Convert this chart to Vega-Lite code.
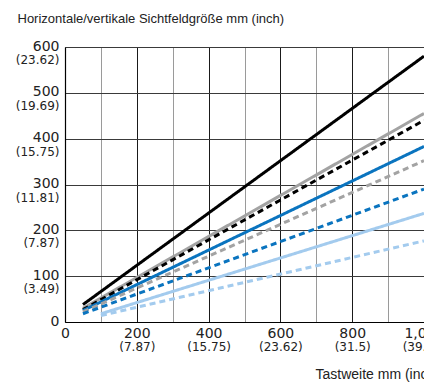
{
  "$schema": "https://vega.github.io/schema/vega-lite/v6.json",
  "width": 359,
  "height": 275,
  "autosize": {"type": "none"},
  "padding": {"left": 65, "top": 47, "right": 0, "bottom": 63},
  "background": "white",
  "config": {
    "view": {"stroke": null},
    "axis": {"labelColor": "#222", "titleColor": "#222", "titleFontWeight": "normal"}
  },
  "data": {
    "values": [
      {"series": "A", "x": 50, "y": 38}, {"series": "A", "x": 1000, "y": 580},
      {"series": "B", "x": 50, "y": 30}, {"series": "B", "x": 1000, "y": 455},
      {"series": "C", "x": 50, "y": 27}, {"series": "C", "x": 1000, "y": 440},
      {"series": "D", "x": 50, "y": 25}, {"series": "D", "x": 1000, "y": 383},
      {"series": "E", "x": 50, "y": 22}, {"series": "E", "x": 1000, "y": 352},
      {"series": "F", "x": 50, "y": 18}, {"series": "F", "x": 1000, "y": 290},
      {"series": "G", "x": 100, "y": 18}, {"series": "G", "x": 1000, "y": 237},
      {"series": "H", "x": 100, "y": 14}, {"series": "H", "x": 1000, "y": 177}
    ]
  },
  "layer": [
    {
      "mark": {"type": "line", "strokeWidth": 3, "strokeCap": "butt", "clip": true},
      "encoding": {
        "x": {
          "field": "x", "type": "quantitative",
          "scale": {"domain": [0, 1000], "nice": false, "zero": false},
          "axis": {
            "orient": "bottom",
            "values": [0, 100, 200, 300, 400, 500, 600, 700, 800, 900, 1000],
            "labelExpr": "datum.value % 200 == 0 ? format(datum.value, ',') : ''",
            "labelFont": "DejaVu Sans", "labelFontSize": 14, "labelPadding": 4,
            "labelFlush": false, "labelOverlap": false,
            "ticks": false, "domain": true, "domainColor": "#000", "domainWidth": 1.2,
            "grid": true, "gridWidth": 1,
            "gridColor": {"condition": {"test": "datum.value % 200 == 0", "value": "#1a1a1a"}, "value": "#9a9a9a"},
            "title": null
          }
        },
        "y": {
          "field": "y", "type": "quantitative",
          "scale": {"domain": [0, 600], "nice": false, "zero": false},
          "axis": {
            "orient": "left",
            "values": [0, 100, 200, 300, 400, 500, 600],
            "labelFont": "DejaVu Sans", "labelFontSize": 14, "labelPadding": 6,
            "labelBaseline": "middle", "labelOffset": -1, "labelFlush": false, "labelOverlap": false,
            "ticks": false, "domain": true, "domainColor": "#000", "domainWidth": 1.2,
            "grid": true, "gridWidth": 1, "gridColor": "#3a3a3a",
            "title": "Horizontale/vertikale Sichtfeldgröße mm (inch)",
            "titleFont": "Liberation Sans", "titleFontSize": 13,
            "titleAngle": 0, "titleAlign": "left", "titleBaseline": "alphabetic",
            "titleX": -48, "titleY": -25
          }
        },
        "color": {
          "field": "series", "type": "nominal", "legend": null,
          "scale": {
            "domain": ["A", "B", "C", "D", "E", "F", "G", "H"],
            "range": ["#000000", "#a3a3a3", "#000000", "#0a74bf", "#a3a3a3", "#0a74bf", "#a3cbee", "#a3cbee"]
          }
        },
        "strokeDash": {
          "field": "series", "type": "nominal", "legend": null,
          "scale": {
            "domain": ["A", "B", "C", "D", "E", "F", "G", "H"],
            "range": [[1, 0], [1, 0], [6, 4], [1, 0], [6, 4], [6, 4], [1, 0], [6, 4]]
          }
        }
      }
    },
    {
      "mark": {"type": "point", "opacity": 0},
      "encoding": {
        "x": {
          "field": "x", "type": "quantitative",
          "axis": {
            "orient": "bottom",
            "values": [200, 400, 600, 800, 1000],
            "labelExpr": "{'200': '(7.87)', '400': '(15.75)', '600': '(23.62)', '800': '(31.5)', '1000': '(39.37)'}[datum.value + '']",
            "labelFont": "DejaVu Sans", "labelFontSize": 12, "labelPadding": 19,
            "labelFlush": false, "labelOverlap": false,
            "ticks": false, "domain": false, "grid": false,
            "title": "Tastweite mm (inch)",
            "titleFont": "Liberation Sans", "titleFontSize": 14,
            "titleAlign": "left", "titleBaseline": "alphabetic",
            "titleX": 250, "titleY": 56
          }
        },
        "y": {
          "field": "y", "type": "quantitative",
          "axis": {
            "orient": "left",
            "values": [100, 200, 300, 400, 500, 600],
            "labelExpr": "{'100': '(3.49)', '200': '(7.87)', '300': '(11.81)', '400': '(15.75)', '500': '(19.69)', '600': '(23.62)'}[datum.value + '']",
            "labelFont": "DejaVu Sans", "labelFontSize": 12, "labelPadding": 6,
            "labelBaseline": "middle", "labelOffset": 12.5, "labelFlush": false, "labelOverlap": false,
            "ticks": false, "domain": false, "grid": false,
            "title": null
          }
        }
      }
    }
  ],
  "resolve": {"axis": {"x": "independent", "y": "independent"}}
}
